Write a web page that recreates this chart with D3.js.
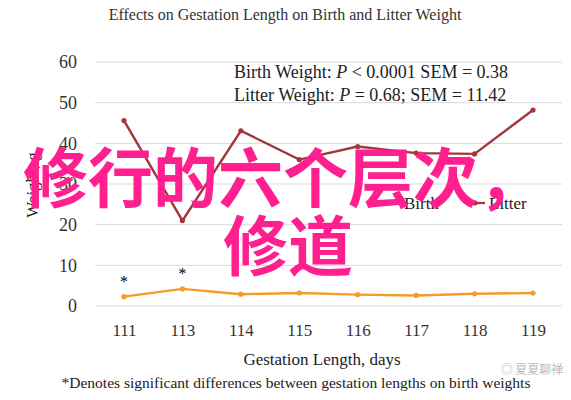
<!DOCTYPE html>
<html><head><meta charset="utf-8">
<script src="https://cdn.jsdelivr.net/npm/d3@7"></script>
<style>body{margin:0;background:#fff}</style>
</head><body>
<svg id="chart" width="571" height="400"></svg>
<script>
// DATA
var days = ["111","113","114","115","116","117","118","119"];
var birth = [2.3, 4.2, 2.9, 3.2, 2.8, 2.6, 3.0, 3.2];
var litter = [45.6, 21.0, 43.1, 36.0, 39.2, 37.6, 37.4, 48.2];
var yTicks = [0, 10, 20, 30, 40, 50, 60];

var svg = d3.select("#chart");
var serif = "Liberation Serif, Times New Roman, serif";

var x = d3.scalePoint().domain(days).range([124, 533]);
var y = d3.scaleLinear().domain([0, 60]).range([306, 62]);

// grid
svg.selectAll(".grid").data(yTicks).enter().append("line")
  .attr("x1", 95).attr("x2", 562)
  .attr("y1", function(d){ return y(d); }).attr("y2", function(d){ return y(d); })
  .attr("stroke", "#d9d9d9").attr("stroke-width", 1);

var yAxis = svg.append("g").attr("transform", "translate(80,0)")
  .call(d3.axisLeft(y).tickValues(yTicks).tickSize(0));
yAxis.select(".domain").remove();
yAxis.selectAll("text").attr("font-family", serif).attr("font-size", 18).attr("fill", "#333");

var xAxis = svg.append("g").attr("transform", "translate(0,318)")
  .call(d3.axisBottom(x).tickSize(0));
xAxis.select(".domain").remove();
xAxis.selectAll("text").attr("font-family", serif).attr("font-size", 17).attr("fill", "#333").attr("dy", "0.9em");

var line = d3.line().x(function(d, i){ return x(days[i]); }).y(function(d){ return y(d); });

function series(vals, col) {
  svg.append("path").datum(vals).attr("d", line)
    .attr("fill", "none").attr("stroke", col).attr("stroke-width", 2.4);
  svg.selectAll(null).data(vals).enter().append("circle")
    .attr("cx", function(d, i){ return x(days[i]); }).attr("cy", function(d){ return y(d); })
    .attr("r", 2.6).attr("fill", col);
}
series(litter, "#a3353d");
series(birth, "#f39b2b");

// significance marks
[0, 1].forEach(function(i){
  svg.append("text").attr("x", x(days[i])).attr("y", y(birth[i]) - 10)
    .attr("text-anchor", "middle").attr("font-family", serif).attr("font-size", 16).text("*");
});

// texts
svg.append("text").attr("x", 285).attr("y", 20).attr("text-anchor", "middle")
  .attr("font-family", serif).attr("font-size", 16).attr("fill", "#333")
  .text("Effects on Gestation Length on Birth and Litter Weight");

var stat = svg.append("text").attr("font-family", serif).attr("font-size", 18).attr("fill", "#222");
stat.append("tspan").attr("x", 234).attr("y", 78).html("Birth Weight: <tspan font-style='italic'>P</tspan> &lt; 0.0001 SEM = 0.38");
stat.append("tspan").attr("x", 234).attr("y", 101).html("Litter Weight: <tspan font-style='italic'>P</tspan> = 0.68; SEM = 11.42");

// legend
var legend = [["Birth", "#f39b2b", 380], ["Litter", "#a3353d", 465]];
legend.forEach(function(l){
  svg.append("line").attr("x1", l[2]).attr("x2", l[2] + 20).attr("y1", 203).attr("y2", 203)
    .attr("stroke", l[1]).attr("stroke-width", 2.2);
  svg.append("circle").attr("cx", l[2] + 10).attr("cy", 203).attr("r", 2.5).attr("fill", l[1]);
  svg.append("text").attr("x", l[2] + 24).attr("y", 209).attr("font-family", serif)
    .attr("font-size", 17).attr("fill", "#222").text(l[0]);
});

svg.append("text").attr("transform", "translate(38,185) rotate(-90)").attr("text-anchor", "middle")
  .attr("font-family", serif).attr("font-size", 17).attr("fill", "#222").text("Weight, g");
svg.append("text").attr("x", 322).attr("y", 365).attr("text-anchor", "middle")
  .attr("font-family", serif).attr("font-size", 17).attr("fill", "#222").text("Gestation Length, days");
svg.append("text").attr("x", 296).attr("y", 388).attr("text-anchor", "middle")
  .attr("font-family", serif).attr("font-size", 15.5).attr("fill", "#222")
  .text("*Denotes significant differences between gestation lengths on birth weights");

// watermark
svg.append("text").attr("x", 532).attr("y", 374).attr("text-anchor", "middle")
  .attr("font-family", "Noto Sans CJK SC").attr("font-size", 12).attr("fill", "#bbb").text("◎ 夏夏聊禅");

// overlay
var cjk = "Noto Sans CJK SC";
svg.append("text").attr("x", 283).attr("y", 202).attr("text-anchor", "middle")
  .attr("font-family", cjk).attr("font-weight", 700).attr("font-size", 65).attr("fill", "#ff1f8e")
  .text("修行的六个层次，");
svg.append("text").attr("x", 288).attr("y", 270).attr("text-anchor", "middle")
  .attr("font-family", cjk).attr("font-weight", 700).attr("font-size", 65).attr("fill", "#ff1f8e")
  .text("修道");
</script>
</body></html>
